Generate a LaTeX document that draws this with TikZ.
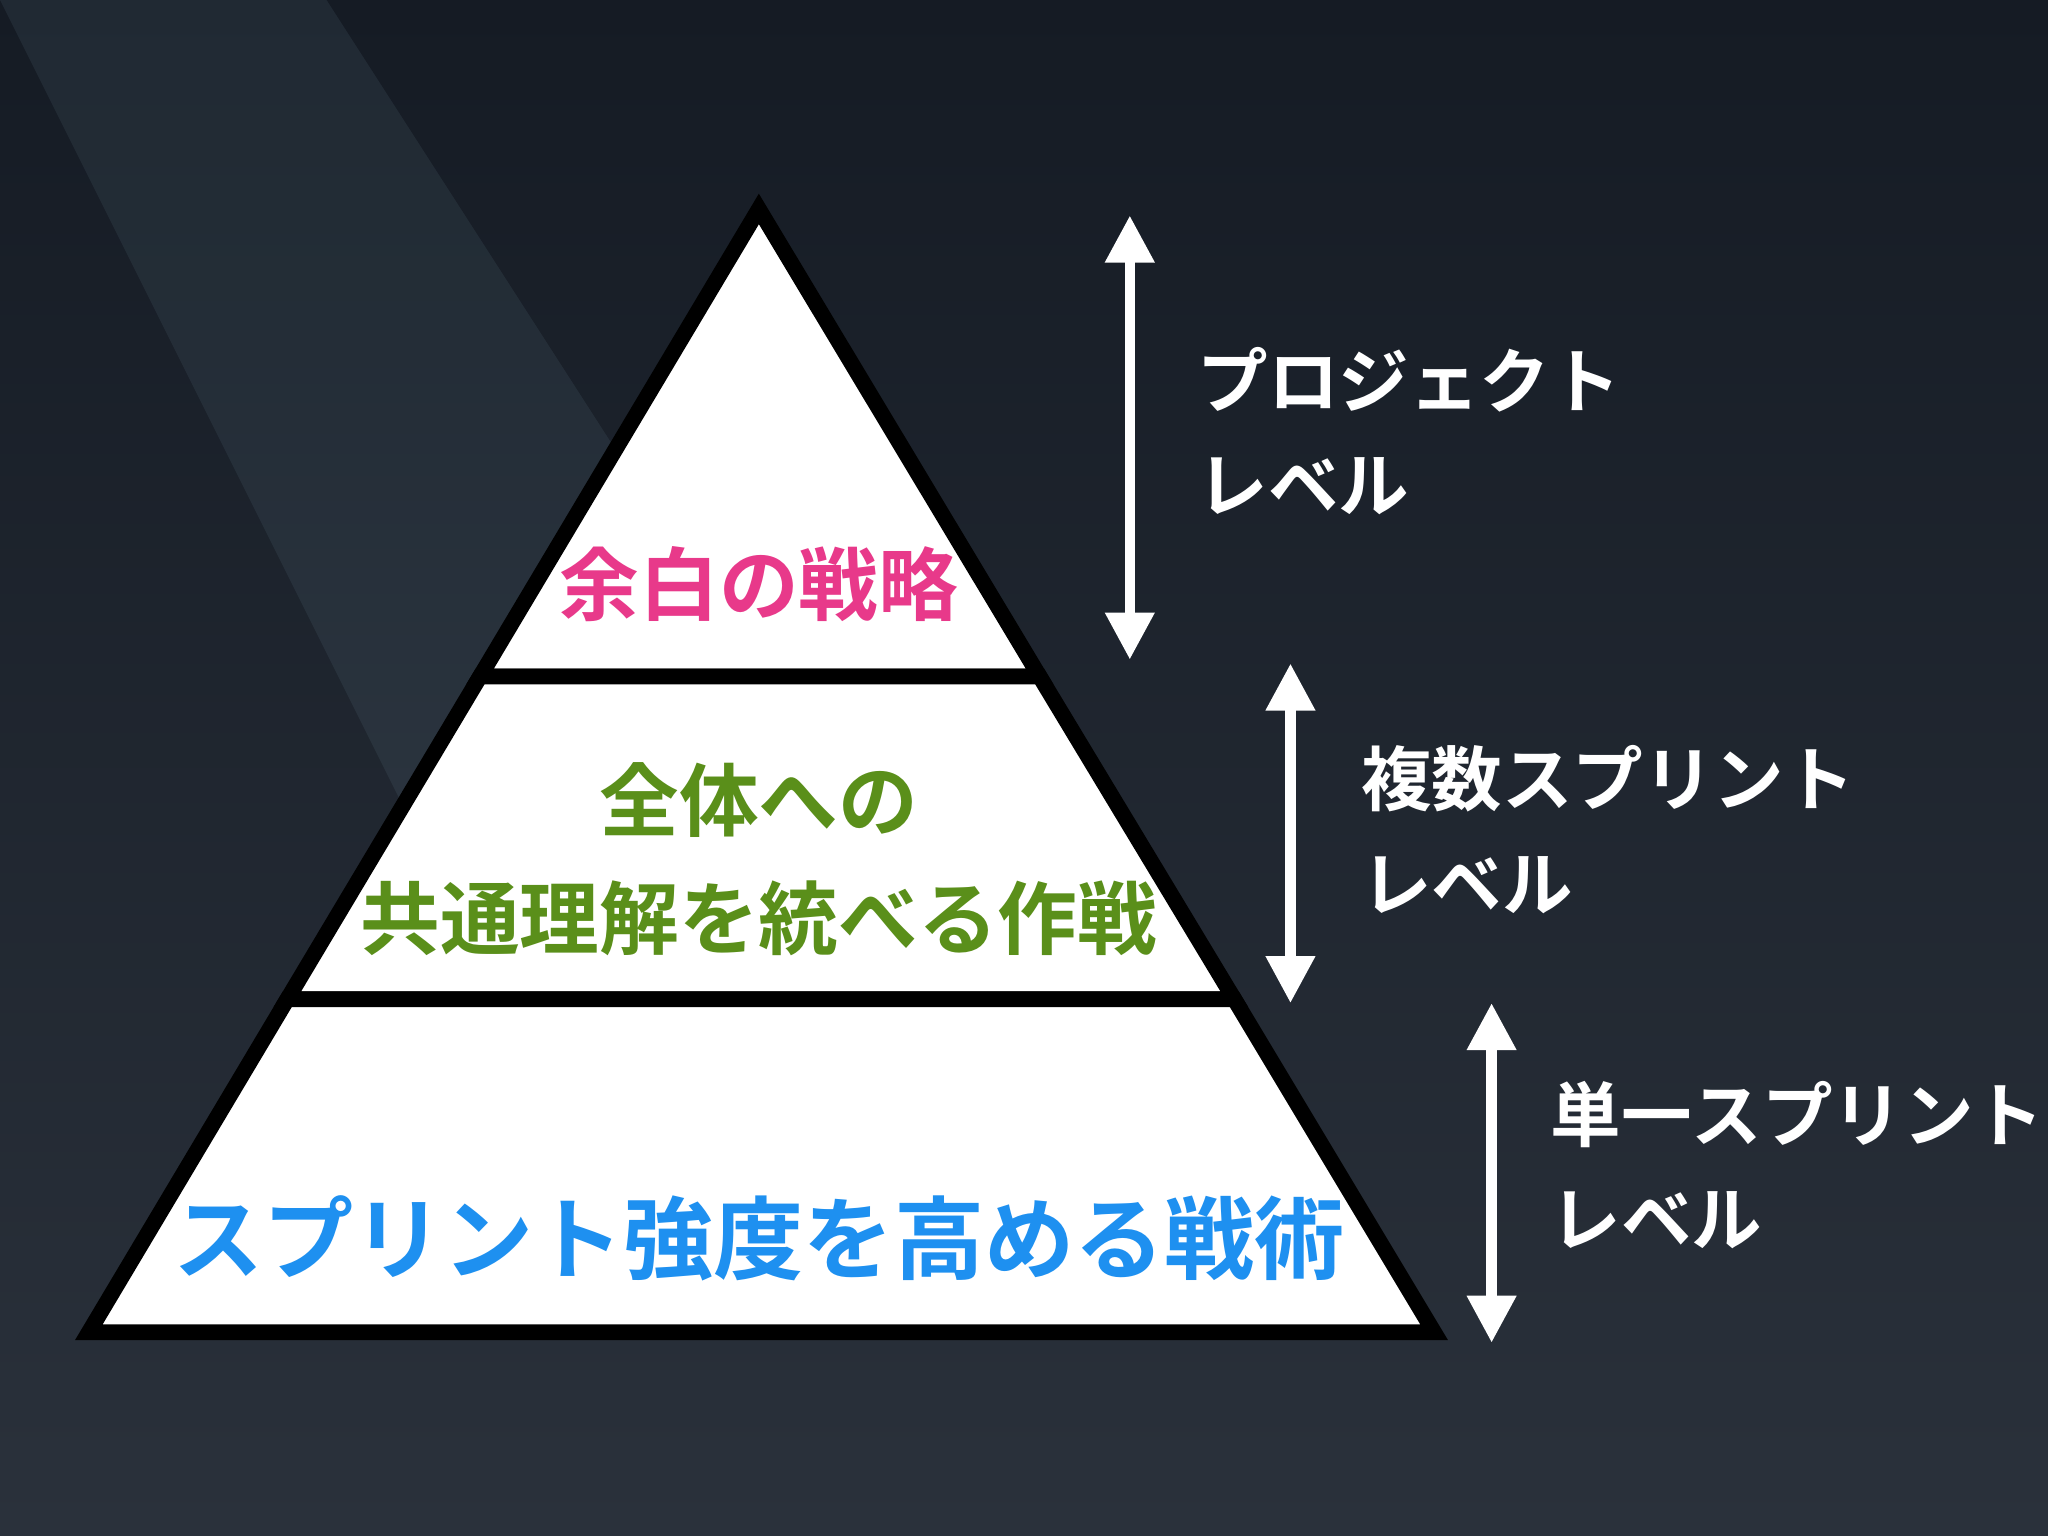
\documentclass[tikz,border=0pt]{standalone}
\usepackage{fontspec}
\newfontfamily\jp{Noto Sans CJK JP Bold}
\usetikzlibrary{arrows.meta}
\definecolor{pinkt}{HTML}{E8398A}
\definecolor{greent}{HTML}{5A8F1A}
\definecolor{bluet}{HTML}{1E90F0}
\definecolor{bgtop}{HTML}{151B24}
\definecolor{bgbot}{HTML}{2A313B}
\tikzset{
  lvl/.style={draw=black,line width=6pt,fill=white,line join=miter},
  dbl/.style={white,line width=4pt,{Triangle[width=18pt,length=18pt]}-{Triangle[width=18pt,length=18pt]}},
  lab/.style={anchor=west,text=white,font=\jp\fontsize{27pt}{40pt}\selectfont,align=left},
  ttl/.style={font=\jp\fontsize{30.5pt}{45pt}\selectfont,align=center}
}
\begin{document}
\begin{tikzpicture}[x=0.5pt,y=-0.5pt]
\useasboundingbox (0,0) rectangle (1568,1176);
\shade[top color=bgtop, bottom color=bgbot] (0,0) rectangle (1568,1176);
\fill[cyan!30!white,opacity=0.07] (0,0) -- (250,0) -- (700,700) -- (400,800) -- cycle;
% pyramid
\draw[lvl] (581,160) -- (796,518) -- (367.5,518) -- cycle;
\draw[lvl] (367.5,518) -- (796,518) -- (945,765) -- (220,765) -- cycle;
\draw[lvl] (220,765) -- (945,765) -- (1098,1020) -- (68,1020) -- cycle;
\node[ttl,text=pinkt] (t1) at (581,447) {余白の戦略};
\node[ttl,text=greent] (t2) at (581,658) {全体への\\共通理解を統べる作戦};
\node[ttl,text=bluet,font=\jp\fontsize{34.5pt}{45pt}\selectfont] (t3) at (581,948) {スプリント強度を高める戦術};
\coordinate (a1) at (865,165); \coordinate (b1) at (865,505);
\coordinate (a2) at (988,508); \coordinate (b2) at (988,768);
\coordinate (a3) at (1142,768); \coordinate (b3) at (1142,1028);
\draw[dbl] (a1) -- (b1);
\draw[dbl] (a2) -- (b2);
\draw[dbl] (a3) -- (b3);
\node[lab] (l1) at (910,330) {プロジェクト\\レベル};
\node[lab] (l2) at (1035,635) {複数スプリント\\レベル};
\node[lab] (l3) at (1180,892) {単一スプリント\\レベル};
\end{tikzpicture}
\end{document}
